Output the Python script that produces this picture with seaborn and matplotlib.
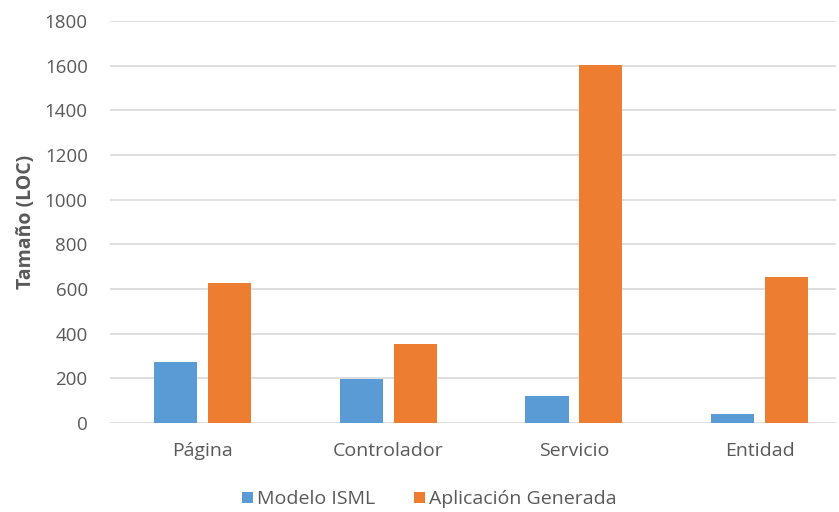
# Gráfico de barras: tamaño (LOC) por tipo de artefacto
import matplotlib
matplotlib.use("Agg")
import matplotlib.pyplot as plt
import pandas as pd
import seaborn as sns

# Datos
categorias = ["Página", "Controlador", "Servicio", "Entidad"]
modelo_isml = [272, 196, 120, 42]
aplicacion_generada = [628, 355, 1605, 654]
series = ["Modelo ISML", "Aplicación Generada"]
colores = ["#5B9BD5", "#ED7D31"]
ticks_y = [0, 200, 400, 600, 800, 1000, 1200, 1400, 1600, 1800]

df = pd.DataFrame({
    "categoria": categorias * 2,
    "serie": [series[0]] * len(categorias) + [series[1]] * len(categorias),
    "loc": modelo_isml + aplicacion_generada,
})

sns.set_theme(style="white")
plt.rcParams["font.family"] = ["Open Sans", "DejaVu Sans"]

fig = plt.figure(figsize=(8.39, 5.12), dpi=100)
ax = fig.add_axes([0.131, 0.174, 0.865, 0.785])

sns.barplot(data=df, x="categoria", y="loc", hue="serie", hue_order=series,
            palette=colores, width=0.58, gap=0.2, saturation=1,
            linewidth=0, errorbar=None, ax=ax, zorder=3)

ax.set_ylim(0, 1800)
ax.set_xlim(-0.5, 3.41)
ax.set_yticks(ticks_y)
ax.yaxis.grid(True, color="#D9D9D9", linewidth=1.2, zorder=0)
ax.set_axisbelow(True)
for s in ax.spines.values():
    s.set_visible(False)
ax.tick_params(axis="both", length=0, labelcolor="#595959")
ax.tick_params(axis="y", pad=16, labelsize=13.5)
ax.tick_params(axis="x", pad=14, labelsize=14)
ax.set_xlabel("")
ax.set_ylabel("Tamaño (LOC)", fontsize=14, fontweight="bold", color="#595959", labelpad=6)

ax.legend(loc="upper center", bbox_to_anchor=(0.44, -0.124), ncol=2, frameon=False,
          fontsize=14, handlelength=0.55, handleheight=0.55, handletextpad=0.2,
          columnspacing=2.0, labelcolor="#595959")

fig.savefig("out.png", dpi=100)
